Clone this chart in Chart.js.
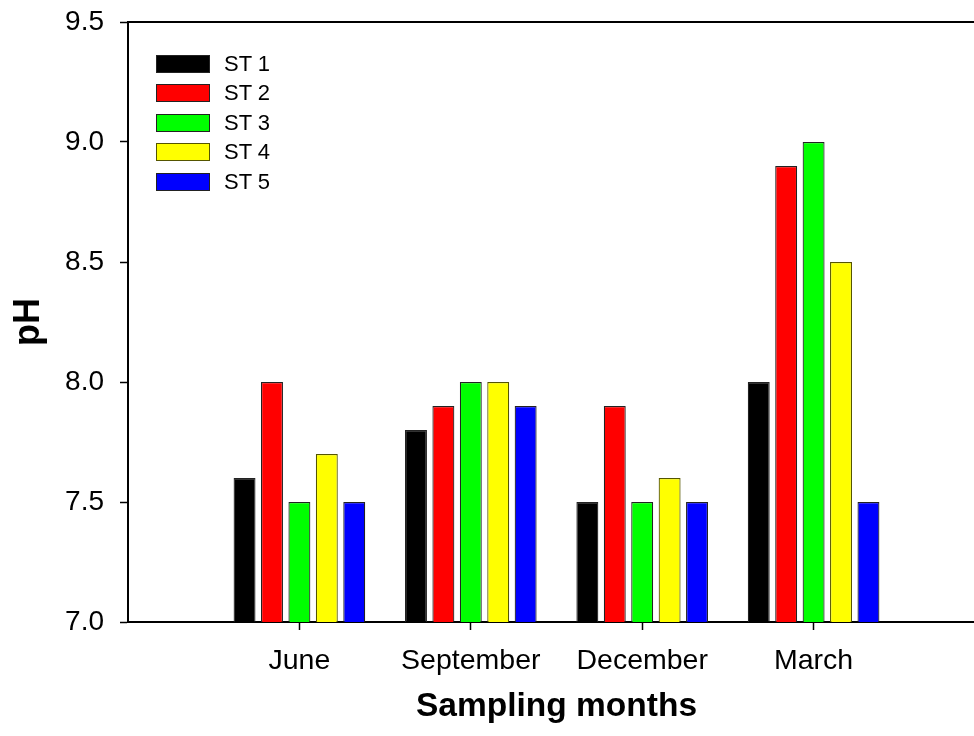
<!DOCTYPE html>
<html>
<head>
<meta charset="utf-8">
<script src="https://cdn.jsdelivr.net/npm/chart.js@4.4.1/dist/chart.umd.min.js"></script>
<style>
  html, body { margin: 0; padding: 0; background: #fff; overflow: hidden; }
  #wrap { position: relative; width: 985px; height: 736px; }
  #legend { position: absolute; left: 156px; top: 49px; font-family: "Liberation Sans", Arial, sans-serif; font-size: 22px; color: #000; }
  .row { display: flex; align-items: center; height: 29.5px; }
  .box { width: 52px; height: 16px; border: 1px solid #222; margin-right: 14px; box-sizing: content-box; }
</style>
</head>
<body>
<div id="wrap">
  <canvas id="c" width="985" height="736"></canvas>
  <div id="legend"></div>
</div>
<script>
const categories = ['June', 'September', 'December', 'March'];
const seriesNames = ['ST 1', 'ST 2', 'ST 3', 'ST 4', 'ST 5'];
const st1 = [7.6, 7.8, 7.5, 8.0];
const st2 = [8.0, 7.9, 7.9, 8.9];
const st3 = [7.5, 8.0, 7.5, 9.0];
const st4 = [7.7, 8.0, 7.6, 8.5];
const st5 = [7.5, 7.9, 7.5, 7.5];
const seriesColors = ['#000000', '#ff0000', '#00ff00', '#ffff00', '#0000ff'];
const borderColors = ['#222222', '#222222', '#222222', '#555500', '#222222'];
const yTicks = [7.0, 7.5, 8.0, 8.5, 9.0, 9.5];

const FONT = '"Liberation Sans", Arial, sans-serif';
// one empty slot on each side of the months
const labels = [''].concat(categories, ['']);
const pad = arr => [null].concat(arr, [null]);
const allSeries = [st1, st2, st3, st4, st5];

const datasets = allSeries.map((s, i) => ({
  label: seriesNames[i],
  data: pad(s),
  backgroundColor: seriesColors[i],
  borderColor: borderColors[i],
  borderWidth: 1.2,
  categoryPercentage: 0.8,
  barPercentage: 0.8
}));

const legend = document.getElementById('legend');
seriesNames.forEach((n, i) => {
  const r = document.createElement('div');
  r.className = 'row';
  const b = document.createElement('div');
  b.className = 'box';
  b.style.background = seriesColors[i];
  b.style.borderColor = borderColors[i];
  const t = document.createElement('span');
  t.textContent = n;
  r.appendChild(b); r.appendChild(t);
  legend.appendChild(r);
});

const edgeTick = ctx => (ctx.index === 0 || ctx.index === labels.length - 1) ? 'rgba(0,0,0,0)' : '#000';
const noPad = s => { s.paddingTop = 0; s.paddingBottom = 0; s.paddingLeft = 0; s.paddingRight = 0; };

new Chart(document.getElementById('c'), {
  type: 'bar',
  data: { labels: labels, datasets: datasets },
  options: {
    responsive: false,
    maintainAspectRatio: false,
    animation: false,
    layout: { padding: { top: 22, right: 0, left: 0, bottom: 0 } },
    plugins: { legend: { display: false }, tooltip: { enabled: false } },
    scales: {
      x: {
        type: 'category',
        offset: false,
        grid: { display: true, offset: false, drawOnChartArea: false, drawTicks: true, tickLength: 8, tickColor: edgeTick, tickWidth: 1.5, color: edgeTick },
        border: { display: true, color: '#000', width: 2 },
        ticks: { color: '#000', font: { family: FONT, size: 28.5 }, padding: 14, maxRotation: 0, autoSkip: false },
        title: { display: true, text: 'Sampling months', color: '#000', font: { family: FONT, size: 33.5, weight: 'bold' }, padding: { top: 0, bottom: 9 } },
        afterFit: s => { s.height = 114; noPad(s); }
      },
      x2: {
        type: 'category',
        position: 'top',
        labels: labels,
        offset: false,
        grid: { display: false, drawTicks: false },
        ticks: { display: false },
        border: { display: true, color: '#000', width: 2 },
        afterFit: s => { s.height = 0; noPad(s); }
      },
      y: {
        type: 'linear',
        min: 7.0,
        max: 9.5,
        afterBuildTicks: s => { s.ticks = yTicks.map(v => ({ value: v })); },
        grid: { display: true, drawOnChartArea: false, drawTicks: true, tickLength: 8, tickColor: '#000', tickWidth: 1.5, color: '#000' },
        border: { display: true, color: '#000', width: 2 },
        ticks: { color: '#000', font: { family: FONT, size: 28 }, padding: 16, callback: v => Number(v).toFixed(1) },
        title: { display: true, text: 'pH', color: '#000', font: { family: FONT, size: 36, weight: 'bold' }, padding: { top: 7, bottom: 0 } },
        afterFit: s => { s.width = 128; noPad(s); }
      }
    }
  }
});
</script>
</body>
</html>
